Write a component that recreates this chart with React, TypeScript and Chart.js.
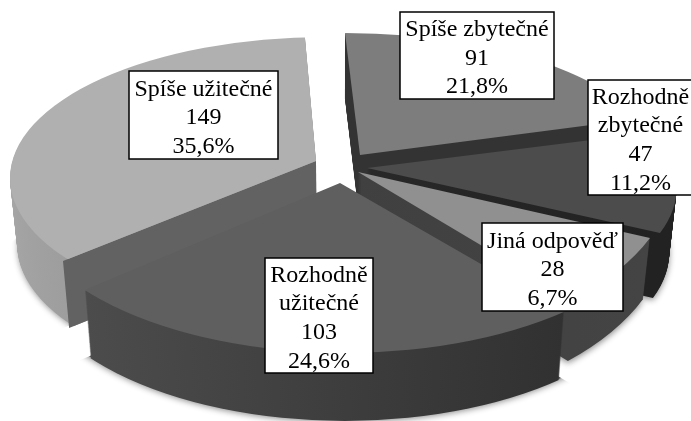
import React, { useEffect, useRef } from "react";
import { Chart, registerables } from "chart.js";

Chart.register(...registerables);

const categories = ["Spíše zbytečné", "Rozhodně zbytečné", "Jiná odpověď", "Rozhodně užitečné", "Spíše užitečné"];
const labelLines = [["Spíše zbytečné"], ["Rozhodně", "zbytečné"], ["Jiná odpověď"], ["Rozhodně", "užitečné"], ["Spíše užitečné"]];
const counts = [91, 47, 28, 103, 149];
const percents = ["21,8%", "11,2%", "6,7%", "24,6%", "35,6%"];
const topColors = ["#7d7d7d", "#4c4c4c", "#909090", "#5f5f5f", "#b0b0b0"];
const wallColors = [["#333333", "#333333"], ["#2e2e2e", "#222222"], ["#3c3c3c", "#444444"], ["#565656", "#262626"], ["#aeaeae", "#8a8a8a"]];

const W = 691;
const H = 421;
// perspective frame of each slice on the page: apex, first rim corner, last rim corner, wall depth,
// optional rim ellipse [cx, cy, rx, ry], optional colour of the wall under the last radial edge
const frames: any[] = [
  { apex: [360, 155], c1: [345, 33], c2: [645, 118], depth: 65, rim: [345, 165, 315, 132] },
  { apex: [367, 168], c1: [655, 132], c2: [660, 233], depth: 65 },
  { apex: [358, 172], c1: [650, 238], c2: [573, 300], depth: 61 },
  { apex: [340, 183], c1: [561, 310], c2: [85, 290], depth: 68, rim: [345, 190, 330, 163] },
  { apex: [316, 161], c1: [305, 38], c2: [63, 261], depth: 67, rim: [325, 178, 315, 141], endWall: "#626262" },
];
const boxes = [
  [400, 12, 554, 99],
  [588, 80, 693, 195],
  [482, 223, 623, 311],
  [265, 258, 373, 373],
  [129, 71, 278, 159],
];
const paintOrder = [0, 4, 1, 2, 3];
const vanishX = 340;
const shrink = 0.022;
const overscan = 1.4;

function sliceMatrix(arc: any, f: any) {
  const r = arc.outerRadius;
  const grow = f.rim ? overscan : 1;
  const d1 = [Math.cos(arc.startAngle) * r, Math.sin(arc.startAngle) * r];
  const d2 = [Math.cos(arc.endAngle) * r, Math.sin(arc.endAngle) * r];
  const det = d1[0] * d2[1] - d2[0] * d1[1];
  const i = [d2[1] / det, -d2[0] / det, -d1[1] / det, d1[0] / det];
  const v1 = [(f.c1[0] - f.apex[0]) * grow, (f.c1[1] - f.apex[1]) * grow];
  const v2 = [(f.c2[0] - f.apex[0]) * grow, (f.c2[1] - f.apex[1]) * grow];
  const a = v1[0] * i[0] + v2[0] * i[2];
  const c = v1[0] * i[1] + v2[0] * i[3];
  const b = v1[1] * i[0] + v2[1] * i[2];
  const d = v1[1] * i[1] + v2[1] * i[3];
  const e = f.apex[0] - a * arc.x - c * arc.y;
  const g = f.apex[1] - b * arc.x - d * arc.y;
  return [a, b, c, d, e, g];
}

function clipRim(ctx: any, f: any) {
  if (!f.rim) return;
  ctx.beginPath();
  ctx.ellipse(f.rim[0], f.rim[1], f.rim[2], f.rim[3], 0, 0, Math.PI * 2);
  ctx.clip();
}

function layer(ctx: any, f: any, t: number) {
  const k = 1 - shrink * t;
  ctx.transform(k, 0, 0, 1, vanishX * (1 - k), f.depth * t);
}

function bottomOf(p: number[], f: any) {
  const k = 1 - shrink;
  return [vanishX + (p[0] - vanishX) * k, p[1] + f.depth];
}

const piePlugin = {
  id: "pie3d",
  beforeDatasetsDraw(chart: any) {
    const ctx = chart.ctx;
    const arcs = chart.getDatasetMeta(0).data;
    paintOrder.forEach((idx) => {
      const arc = arcs[idx];
      const f = frames[idx];
      const m = sliceMatrix(arc, f);
      const saved = arc.options;
      const r = arc.outerRadius;
      const steps = Math.ceil(f.depth);

      // soft shadow under a clipped slice
      if (f.rim) {
        ctx.save();
        const far = (p: number[]) => [f.apex[0] + (p[0] - f.apex[0]) * 2, f.apex[1] + (p[1] - f.apex[1]) * 2 + f.depth];
        const p1 = far(f.c1);
        const p2 = far(f.c2);
        ctx.beginPath();
        ctx.moveTo(f.apex[0], f.apex[1] + f.depth);
        ctx.lineTo(p1[0], p1[1]);
        ctx.lineTo(p2[0], p2[1]);
        ctx.closePath();
        ctx.clip();
        ctx.shadowColor = "rgba(0,0,0,0.45)";
        ctx.shadowBlur = 6;
        ctx.shadowOffsetY = 2;
        layer(ctx, f, 1);
        ctx.fillStyle = wallColors[idx][0];
        ctx.beginPath();
        ctx.ellipse(f.rim[0], f.rim[1], f.rim[2] - 1, f.rim[3] - 1, 0, 0, Math.PI * 2);
        ctx.fill();
        ctx.restore();
      }

      const grad = ctx.createLinearGradient(arc.x - r * 0.9, 0, arc.x + r * 0.9, 0);
      grad.addColorStop(0, wallColors[idx][0]);
      grad.addColorStop(1, wallColors[idx][1]);
      arc.options = { ...saved, backgroundColor: grad };
      for (let s = steps; s >= 1; s--) {
        ctx.save();
        if (s === steps && !f.rim) {
          ctx.shadowColor = "rgba(0,0,0,0.45)";
          ctx.shadowBlur = 6;
          ctx.shadowOffsetY = 2;
        }
        layer(ctx, f, s / steps);
        clipRim(ctx, f);
        ctx.transform(m[0], m[1], m[2], m[3], m[4], m[5]);
        arc.draw(ctx);
        ctx.restore();
      }
      arc.options = saved;

      if (f.endWall) {
        const b1 = bottomOf(f.c2, f);
        const b2 = bottomOf(f.apex, f);
        ctx.fillStyle = f.endWall;
        ctx.beginPath();
        ctx.moveTo(f.apex[0], f.apex[1]);
        ctx.lineTo(f.c2[0], f.c2[1]);
        ctx.lineTo(b1[0], b1[1]);
        ctx.lineTo(b2[0], b2[1]);
        ctx.closePath();
        ctx.fill();
      }

      ctx.save();
      clipRim(ctx, f);
      ctx.transform(m[0], m[1], m[2], m[3], m[4], m[5]);
      arc.draw(ctx);
      ctx.restore();
    });
    return false;
  },
  afterDraw(chart: any) {
    const ctx = chart.ctx;
    ctx.save();
    ctx.font = '24px "Liberation Serif"';
    ctx.textAlign = "center";
    ctx.textBaseline = "middle";
    categories.forEach((_, i) => {
      const [x0, y0, x1, y1] = boxes[i];
      ctx.fillStyle = "#ffffff";
      ctx.fillRect(x0, y0, x1 - x0, y1 - y0);
      ctx.strokeStyle = "#000000";
      ctx.lineWidth = 1.5;
      ctx.strokeRect(x0, y0, x1 - x0, y1 - y0);
      const lines = [...labelLines[i], String(counts[i]), percents[i]];
      const lh = 28.6;
      const cy = (y0 + y1) / 2 - ((lines.length - 1) * lh) / 2 + 3;
      const cx = (x0 + Math.min(x1, 691)) / 2 + (x1 > 691 ? 1 : 0);
      ctx.fillStyle = "#000000";
      lines.forEach((l, j) => ctx.fillText(l, cx, cy + j * lh));
    });
    ctx.restore();
  },
};

export default function App() {
  const ref = useRef<HTMLCanvasElement>(null);
  useEffect(() => {
    const chart = new Chart(ref.current as HTMLCanvasElement, {
      type: "pie",
      data: {
        labels: categories,
        datasets: [{ data: counts, backgroundColor: topColors, borderWidth: 0 }],
      },
      options: {
        animation: false,
        responsive: false,
        rotation: -5,
        plugins: { legend: { display: false }, tooltip: { enabled: false } },
      },
      plugins: [piePlugin],
    } as any);
    return () => chart.destroy();
  }, []);
  return (
    <div style={{ position: "absolute", left: 0, top: 0, width: W, height: H, background: "#fff", overflow: "hidden" }}>
      <canvas ref={ref} width={W} height={H} style={{ display: "block", filter: "blur(0.4px)" }} />
    </div>
  );
}
